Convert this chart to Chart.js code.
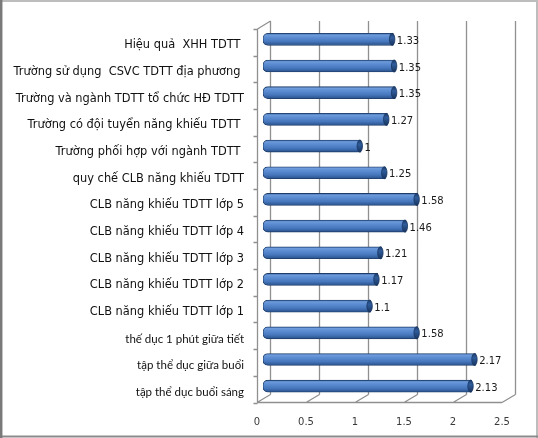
<!DOCTYPE html>
<html>
<head>
<meta charset="utf-8">
<script src="https://cdn.jsdelivr.net/npm/chart.js@4/dist/chart.umd.min.js"></script>
<style>
html,body{margin:0;padding:0;background:#fff;overflow:hidden;}
canvas{display:block;}
</style>
</head>
<body>
<canvas id="c" width="538" height="438" style="width:538px;height:438px"></canvas>
<script>
// ---- data ----
const categories = [
  "Hiệu quả  XHH TDTT ",
  "Trường sử dụng  CSVC TDTT địa phương ",
  "Trường và ngành TDTT tổ chức HĐ TDTT",
  "Trường có đội tuyển năng khiếu TDTT ",
  "Trường phối hợp với ngành TDTT ",
  "quy chế CLB năng khiếu TDTT",
  "CLB năng khiếu TDTT lớp 5",
  "CLB năng khiếu TDTT lớp 4",
  "CLB năng khiếu TDTT lớp 3",
  "CLB năng khiếu TDTT lớp 2",
  "CLB năng khiếu TDTT lớp 1",
  "thế dục 1 phút giữa tiết",
  "tập thể dục giữa buổi",
  "tập thể dục buổi sáng"
];
const values = [1.33, 1.35, 1.35, 1.27, 1, 1.25, 1.58, 1.46, 1.21, 1.17, 1.1, 1.58, 2.17, 2.13];
const xTicks = [0, 0.5, 1, 1.5, 2, 2.5];

// perspective offsets (front / back planes relative to the bar plane)
const FRONT = {dx: -6, dy: 3};
const BACK = {dx: 7, dy: -5};

const wallPlugin = {
  id: 'wall',
  beforeDatasetsDraw(chart) {
    const ctx = chart.ctx;
    const a = chart.chartArea;
    const xs = chart.scales.x;
    const n = categories.length;
    const catH = (a.bottom - a.top) / n;
    ctx.save();
    // page frame
    ctx.lineWidth = 2;
    ctx.strokeStyle = '#bdbdbd';
    ctx.beginPath();
    ctx.moveTo(0, 1); ctx.lineTo(537, 1);
    ctx.moveTo(537, 0); ctx.lineTo(537, 438);
    ctx.stroke();
    ctx.strokeStyle = '#8a8a8a';
    ctx.beginPath();
    ctx.moveTo(0, 436.5); ctx.lineTo(538, 436.5);
    ctx.stroke();
    ctx.lineWidth = 2.5;
    ctx.strokeStyle = '#7a7a7a';
    ctx.beginPath();
    ctx.moveTo(1.2, 0); ctx.lineTo(1.2, 438);
    ctx.stroke();

    const fTop = a.top + FRONT.dy, fBot = a.bottom + FRONT.dy;
    const bTop = a.top + BACK.dy, bBot = a.bottom + BACK.dy;
    ctx.lineWidth = 1.3;
    ctx.strokeStyle = '#909090';
    ctx.beginPath();
    xTicks.forEach(v => {
      const sx = xs.getPixelForValue(v);
      const bx = Math.round(sx + BACK.dx) + 0.5;
      const fx = sx + FRONT.dx;
      ctx.moveTo(bx, bTop); ctx.lineTo(bx, bBot);
      ctx.moveTo(fx, fBot); ctx.lineTo(bx, bBot);
    });
    const fx0 = Math.round(xs.getPixelForValue(0) + FRONT.dx) + 0.5;
    const fxEnd = xs.getPixelForValue(xTicks[xTicks.length - 1]) + FRONT.dx;
    ctx.moveTo(fx0, fBot); ctx.lineTo(fxEnd, fBot);
    ctx.moveTo(fx0, fTop); ctx.lineTo(fx0, fBot);
    ctx.moveTo(fx0, fTop); ctx.lineTo(Math.round(xs.getPixelForValue(0) + BACK.dx) + 0.5, bTop);
    for (let k = 0; k <= n; k++) {
      const y = Math.round(fTop + k * catH) + 0.5;
      ctx.moveTo(fx0 - 4, y); ctx.lineTo(fx0, y);
    }
    ctx.stroke();
    ctx.restore();
  },
  afterDatasetsDraw(chart) {
    const ctx = chart.ctx;
    const meta = chart.getDatasetMeta(0);
    ctx.save();
    meta.data.forEach((el, i) => {
      const h = el.height / 2;
      if (!isFinite(el.x) || !isFinite(el.y) || !isFinite(h)) return;
      const g = ctx.createLinearGradient(0, el.y - h, 0, el.y + h);
      g.addColorStop(0, '#1d3b69');
      g.addColorStop(0.35, '#2f5c9c');
      g.addColorStop(1, '#1a355e');
      ctx.beginPath();
      ctx.ellipse(el.x - 1.2, el.y, 2.7, h, 0, 0, Math.PI * 2);
      ctx.fillStyle = g;
      ctx.fill();
      ctx.lineWidth = 0.8;
      ctx.strokeStyle = '#18355f';
      ctx.stroke();
      ctx.fillStyle = '#1a1a1a';
      ctx.font = '10px "DejaVu Sans"';
      ctx.textAlign = 'left';
      ctx.textBaseline = 'middle';
      ctx.fillText(String(values[i]), el.x + 3.5, el.y + 2);
    });
    ctx.restore();
  }
};

new Chart(document.getElementById('c'), {
  type: 'bar',
  data: {
    labels: categories,
    datasets: [{
      data: values,
      barThickness: 12,
      borderWidth: 0.8,
      borderColor: '#1f3d68',
      borderSkipped: false,
      borderRadius: {topLeft: 5, bottomLeft: 5, topRight: 0, bottomRight: 0},
      backgroundColor: (c) => {
        const chart = c.chart;
        const ys = chart.scales && chart.scales.y;
        if (!ys || c.type !== 'data') return '#4a7ebb';
        const yc = ys.getPixelForValue(c.index);
        if (!isFinite(yc)) return '#4a7ebb';
        const g = chart.ctx.createLinearGradient(0, yc - 6, 0, yc + 6);
        g.addColorStop(0, '#335fa0');
        g.addColorStop(0.14, '#6e9bda');
        g.addColorStop(0.32, '#5d8dd2');
        g.addColorStop(0.68, '#4676bc');
        g.addColorStop(1, '#28508a');
        return g;
      }
    }]
  },
  options: {
    responsive: false,
    animation: false,
    indexAxis: 'y',
    layout: {padding: {top: 26, right: 30, left: 0, bottom: 0}},
    plugins: {legend: {display: false}, tooltip: {enabled: false}},
    scales: {
      x: {
        min: 0, max: 2.5,
        afterBuildTicks: (s) => { s.ticks = xTicks.map(v => ({value: v})); },
        ticks: {
          labelOffset: -6,
          padding: 17,
          color: '#3a3a3a',
          font: {family: 'DejaVu Sans', size: 10},
          callback: (v) => String(v)
        },
        grid: {display: false, drawTicks: false},
        border: {display: false},
        afterFit: (s) => { s.height = 38.5; }
      },
      y: {
        ticks: {
          padding: 19,
          labelOffset: 6,
          color: '#111',
          font: (c) => (c.index >= 11
            ? {family: 'Lato', size: 11.5}
            : {family: 'DejaVu Sans', size: 11.4})
        },
        grid: {display: false, drawTicks: false},
        border: {display: false},
        afterFit: (s) => { s.width = 263; }
      }
    }
  },
  plugins: [wallPlugin]
});
</script>
</body>
</html>
